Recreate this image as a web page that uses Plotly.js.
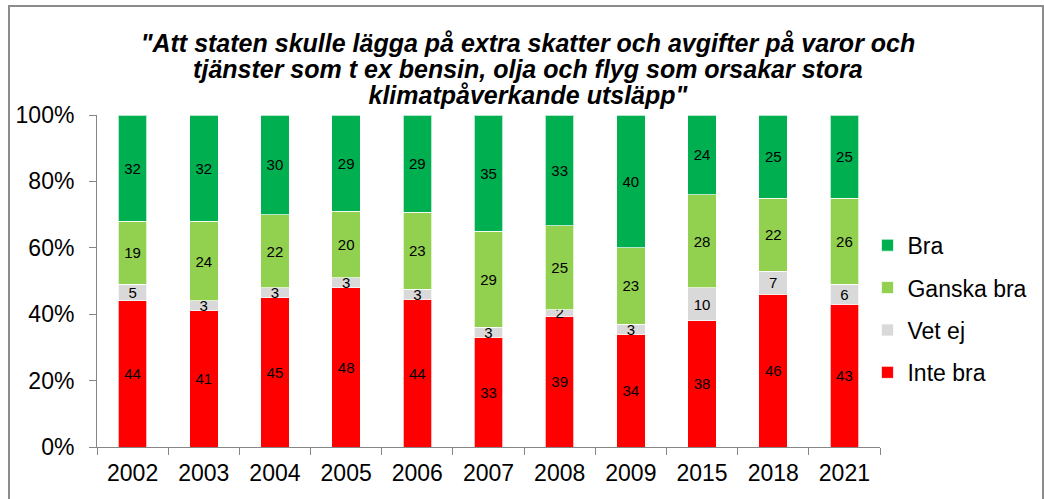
<!DOCTYPE html>
<html>
<head>
<meta charset="utf-8">
<script src="https://cdn.plot.ly/plotly-3.0.1.min.js"></script>
<style>
html,body{margin:0;padding:0;background:#fff;}
#wrap{position:relative;width:1044px;height:499px;overflow:hidden;}
#chart{width:1044px;height:499px;}
#frame{position:absolute;left:8px;top:5px;width:1032px;height:520px;border:2px solid #8c8c8c;pointer-events:none;}
</style>
</head>
<body>
<div id="wrap"><div id="chart"></div><div id="frame"></div></div>
<script>
const years = ["2002","2003","2004","2005","2006","2007","2008","2009","2015","2018","2021"];
const inteBra   = [44,41,45,48,44,33,39,34,38,46,43];
const vetEj     = [5,3,3,3,3,3,2,3,10,7,6];
const ganskaBra = [19,24,22,20,23,29,25,23,28,22,26];
const bra       = [32,32,30,29,29,35,33,40,24,25,25];

const seriesNames  = ["Inte bra","Vet ej","Ganska bra","Bra"];
const seriesValues = [inteBra, vetEj, ganskaBra, bra];
const seriesColors = ["#FF0000","#D9D9D9","#92D050","#00B050"];
const legendRanks  = [4, 3, 2, 1];

const titleLines = [
  "\"Att staten skulle lägga på extra skatter och avgifter på varor och",
  "tjänster som t ex bensin, olja och flyg som orsakar stora",
  "klimatpåverkande utsläpp\""
];

const FONT = "Liberation Sans, Arial, sans-serif";

const traces = seriesNames.map((name, i) => ({
  type: "bar",
  name: name,
  x: years,
  y: seriesValues[i],
  text: seriesValues[i].map(String),
  texttemplate: "%{text}",
  textposition: "inside",
  insidetextanchor: "middle",
  constraintext: "none",
  textangle: 0,
  textfont: {family: FONT, size: 15, color: "#000000"},
  marker: {color: seriesColors[i], line: {color: "rgba(255,255,255,0.7)", width: 1}},
  legendgroup: "g" + i,
  legendrank: legendRanks[i],
  hoverinfo: "skip"
}));

const layout = {
  width: 1044,
  height: 499,
  paper_bgcolor: "#ffffff",
  plot_bgcolor: "#ffffff",
  barmode: "stack",
  barnorm: "percent",
  bargap: 0.6,
  margin: {l: 97, r: 159, t: 115, b: 52, pad: 0},
  font: {family: FONT, color: "#000000"},
  title: {
    text: titleLines.map(l => "<span style=\"font-size:25px\"><b><i>" + l + "</i></b></span>").join("<br>"),
    font: {family: FONT, size: 20, color: "#000000"},
    x: 0.5057,
    xanchor: "center",
    y: 0.895,
    yanchor: "top"
  },
  xaxis: {
    type: "category",
    showgrid: false,
    showline: true,
    linecolor: "#868686",
    linewidth: 1,
    ticks: "outside",
    tickson: "boundaries",
    ticklen: 7,
    tickcolor: "#868686",
    ticklabelstandoff: 5,
    tickfont: {family: FONT, size: 23, color: "#000000"},
    zeroline: false,
    fixedrange: true
  },
  yaxis: {
    range: [0, 100],
    tickvals: [0, 20, 40, 60, 80, 100],
    ticktext: ["0%","20%","40%","60%","80%","100%"],
    showgrid: false,
    showline: true,
    linecolor: "#868686",
    linewidth: 1,
    ticks: "outside",
    ticklen: 7,
    tickcolor: "#868686",
    ticklabelstandoff: 10,
    tickfont: {family: FONT, size: 23, color: "#000000"},
    zeroline: false,
    fixedrange: true
  },
  legend: {
    x: 0.984,
    xanchor: "left",
    y: 0.415,
    yanchor: "middle",
    traceorder: "grouped",
    tracegroupgap: 9.5,
    font: {family: FONT, size: 23, color: "#000000"},
    bgcolor: "rgba(0,0,0,0)"
  },
  showlegend: true
};

Plotly.newPlot("chart", traces, layout, {displayModeBar: false, staticPlot: true});
</script>
</body>
</html>
